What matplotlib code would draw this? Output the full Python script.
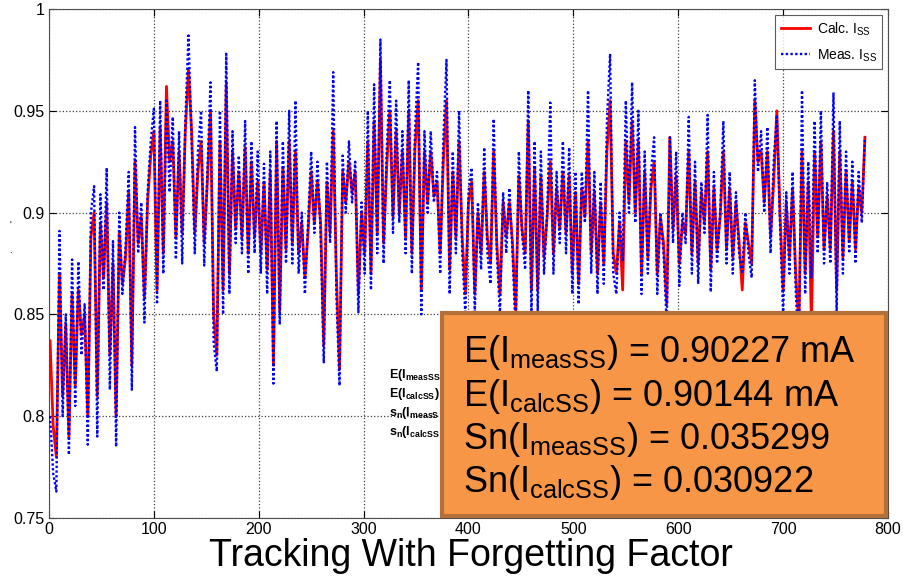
import numpy as np
import matplotlib
matplotlib.use('Agg')
import matplotlib.pyplot as plt
from matplotlib.patches import Rectangle

plt.rcParams['font.family'] = ['Liberation Sans', 'DejaVu Sans']
plt.rcParams['mathtext.fontset'] = 'custom'
plt.rcParams['mathtext.rm'] = 'Liberation Sans'
plt.rcParams['mathtext.it'] = 'Liberation Sans:italic'
plt.rcParams['mathtext.bf'] = 'Liberation Sans:bold'

# sample index (every 3rd sample)
samples = np.arange(1, 779, 3)

meas_milli = [
    800, 772, 763, 891, 800, 850, 781, 877, 805, 876,
    830, 855, 786, 900, 913, 790, 909, 862, 922, 813,
    886, 785, 900, 860, 883, 920, 813, 942, 880, 905,
    846, 910, 935, 951, 855, 955, 870, 955, 910, 947,
    877, 940, 875, 945, 987, 935, 880, 930, 950, 874,
    920, 964, 836, 822, 950, 850, 978, 860, 940, 885,
    928, 880, 945, 870, 935, 880, 930, 870, 924, 860,
    930, 816, 945, 845, 935, 875, 950, 875, 955, 870,
    900, 860, 895, 930, 890, 925, 890, 826, 925, 885,
    969, 860, 815, 928, 900, 935, 905, 925, 851, 905,
    870, 950, 862, 963, 880, 985, 875, 930, 965, 890,
    955, 895, 940, 880, 965, 870, 940, 974, 850, 940,
    900, 940, 905, 920, 870, 936, 975, 860, 930, 880,
    950, 880, 850, 910, 922, 851, 905, 872, 932, 880,
    865, 946, 880, 850, 910, 880, 912, 880, 840, 930,
    890, 872, 960, 850, 935, 852, 930, 870, 900, 954,
    870, 920, 885, 935, 880, 932, 860, 920, 855, 920,
    895, 960, 870, 920, 860, 915, 865, 945, 978, 870,
    860, 900, 876, 955, 900, 964, 895, 950, 860, 930,
    870, 920, 937, 860, 900, 880, 845, 937, 885, 930,
    864, 900, 885, 947, 870, 925, 865, 915, 890, 948,
    861, 920, 875, 900, 945, 875, 920, 870, 910, 880,
    870, 900, 880, 868, 965, 920, 940, 900, 942, 880,
    925, 948, 895, 850, 910, 870, 920, 862, 830, 960,
    860, 925, 868, 945, 880, 950, 875, 915, 875, 959,
    850, 945, 870, 930, 880, 925, 875, 920, 895, 937,
]

# calculated steady state current, in 1e-3 units
calc_milli = [
    837, 795, 780, 870, 810, 845, 790, 860, 815, 862,
    840, 850, 800, 888, 900, 810, 895, 868, 905, 830,
    875, 800, 890, 865, 878, 910, 825, 925, 885, 898,
    858, 905, 928, 940, 862, 942, 880, 962, 925, 935,
    888, 930, 890, 940, 970, 940, 890, 920, 935, 885,
    915, 950, 850, 830, 935, 862, 963, 870, 930, 892,
    920, 888, 932, 880, 925, 888, 915, 880, 915, 872,
    920, 825, 935, 852, 922, 882, 935, 885, 930, 880,
    895, 868, 890, 920, 895, 915, 895, 835, 915, 890,
    940, 870, 823, 920, 905, 925, 910, 920, 860, 900,
    880, 935, 870, 945, 890, 975, 885, 922, 950, 898,
    940, 900, 930, 888, 950, 880, 932, 955, 862, 930,
    905, 930, 908, 915, 880, 925, 955, 872, 920, 888,
    935, 888, 860, 905, 915, 860, 900, 880, 920, 888,
    875, 930, 885, 860, 905, 888, 905, 885, 852, 918,
    892, 880, 945, 862, 922, 862, 918, 878, 898, 925,
    880, 912, 892, 920, 890, 918, 870, 910, 865, 912,
    898, 935, 880, 910, 870, 905, 875, 930, 955, 880,
    870, 895, 862, 935, 905, 945, 900, 935, 870, 920,
    878, 912, 925, 870, 898, 885, 855, 937, 892, 918,
    875, 895, 890, 930, 880, 915, 875, 910, 895, 930,
    872, 912, 882, 898, 930, 882, 912, 878, 905, 886,
    862, 895, 885, 875, 955, 925, 930, 905, 930, 888,
    915, 950, 900, 862, 905, 878, 912, 870, 845, 930,
    870, 915, 845, 930, 888, 935, 882, 908, 882, 940,
    862, 930, 878, 920, 886, 915, 882, 912, 900, 937,
]

meas = np.array(meas_milli) / 1000.0
calc = np.array(calc_milli) / 1000.0

x_ticks = [0, 100, 200, 300, 400, 500, 600, 700, 800]
y_ticks = [0.75, 0.8, 0.85, 0.9, 0.95, 1.0]
y_ticklabels = ['0.75', '0.8', '0.85', '0.9', '0.95', '1']

stats_big = [
    r'E(I$_{\mathrm{measSS}}$) = 0.90227 mA',
    r'E(I$_{\mathrm{calcSS}}$) = 0.90144 mA',
    r'Sn(I$_{\mathrm{measSS}}$) = 0.035299',
    r'Sn(I$_{\mathrm{calcSS}}$) = 0.030922',
]
# the same annotation drawn small behind the box, only its start shows
stats_small = [
    r'E(I$_{\mathbf{measSS}}$',
    r'E(I$_{\mathbf{calcSS}}$)',
    r's$_{\mathbf{n}}$(I$_{\mathbf{measS}}$',
    r's$_{\mathbf{n}}$(I$_{\mathbf{calcSS}}$',
]

W, H = 904, 579
fig = plt.figure(figsize=(W / 100, H / 100), dpi=100)
ax = fig.add_axes([49 / W, (H - 518) / H, (888 - 49) / W, (518 - 9) / H])

ax.plot(samples, calc, color='red', lw=2.0, label=r'Calc. I$_{\mathrm{SS}}$', zorder=3)
ax.plot(samples, meas, color='blue', lw=1.7, ls=(0, (1, 1)), label=r'Meas. I$_{\mathrm{SS}}$', zorder=4)

ax.set_xlim(0, 800)
ax.set_ylim(0.75, 1.0)
ax.set_xticks(x_ticks)
ax.set_yticks(y_ticks)
ax.set_yticklabels(y_ticklabels)
ax.tick_params(direction='in', top=True, right=True, labelsize=11.5, length=5, pad=3)
ax.grid(True, color='0.25', ls=':', lw=0.9)
for s in ax.spines.values():
    s.set_color('0.3')

leg = ax.legend(loc='upper right', fontsize=10, frameon=True, fancybox=False,
                borderaxespad=0.4, handlelength=2.1, handletextpad=0.5, labelspacing=0.7)
leg.get_frame().set_edgecolor('0.2')
leg.get_frame().set_linewidth(0.8)

# small overlapped annotation left of the box
for i, s in enumerate(stats_small):
    fig.text(389 / W, 1 - (378 + i * 19) / H, s, fontsize=9, fontweight='bold',
             va='baseline', ha='left', zorder=5)

# stray marks on the left edge
fig.text(10 / W, 1 - 226 / H, "'", fontsize=7, ha='center', va='center')
fig.text(10 / W, 1 - 250 / H, ".", fontsize=7, ha='center', va='center')

# orange stats box
box = Rectangle((442 / W, 1 - 516 / H), (886 - 442) / W, (516 - 313) / H,
                transform=fig.transFigure, facecolor='#F79646', edgecolor='#B5703A',
                lw=3, zorder=10)
fig.patches.append(box)
for i, s in enumerate(stats_big):
    fig.text(463 / W, 1 - (362 + i * 43.5) / H, s, fontsize=26,
             va='baseline', ha='left', zorder=11)

fig.text(471 / W, 1 - 556 / H, 'Tracking With Forgetting Factor', fontsize=27,
         ha='center', va='center')

fig.savefig('out.png', dpi=100)
